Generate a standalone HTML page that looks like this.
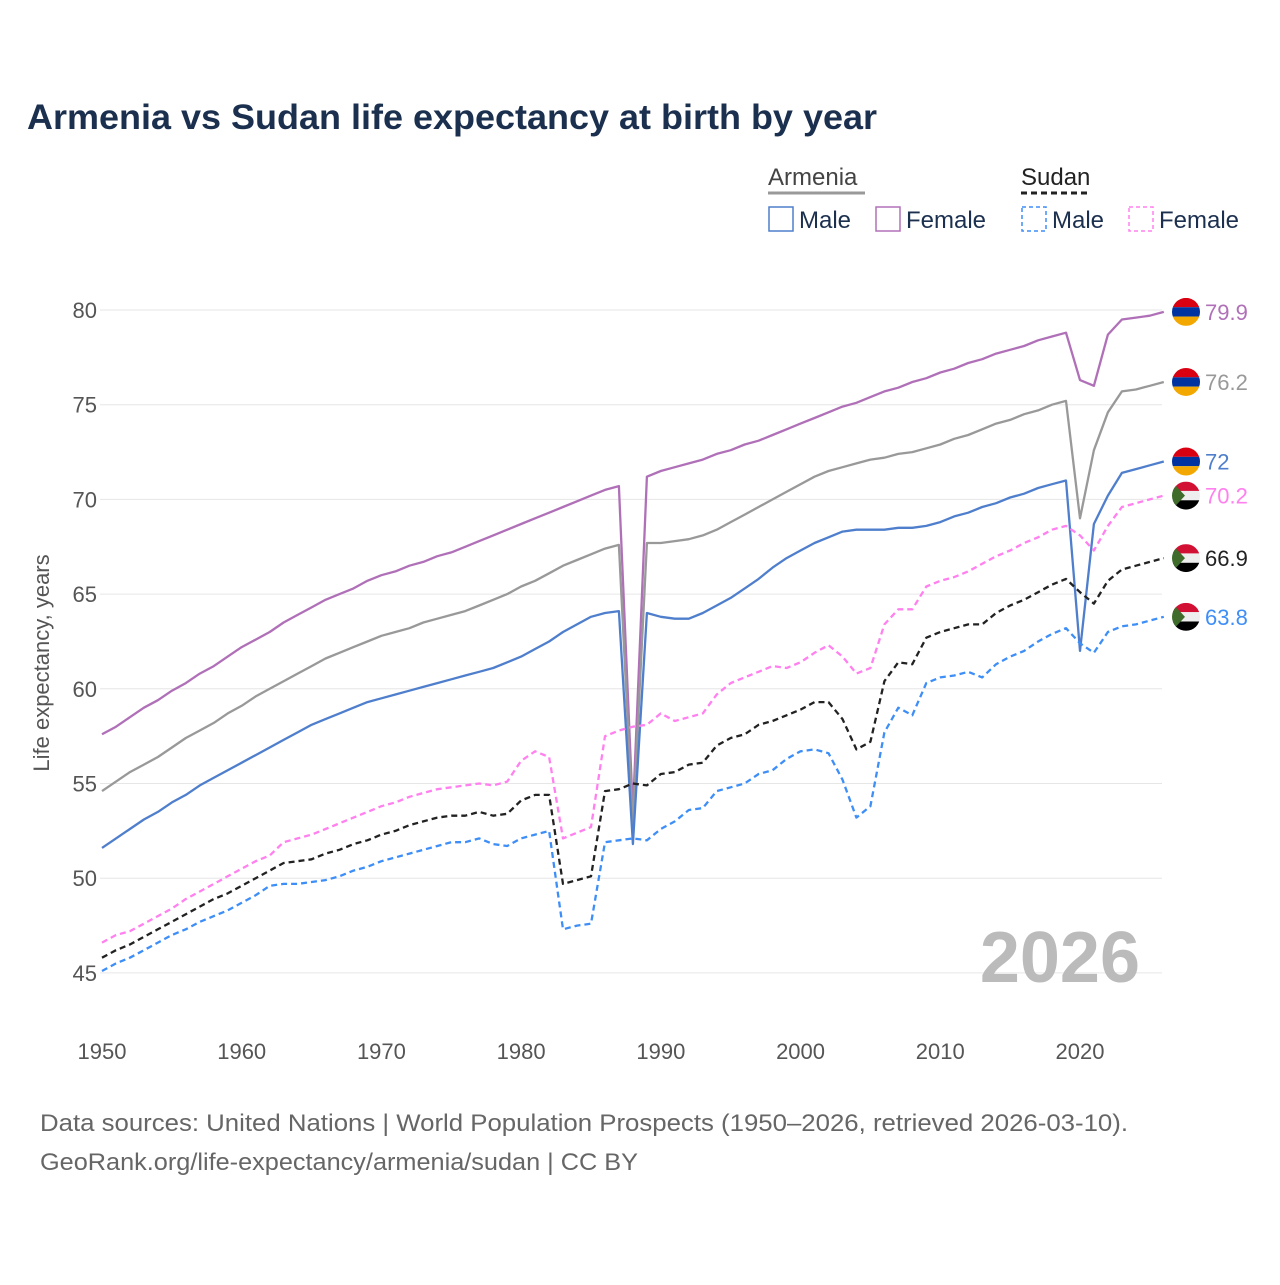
<!DOCTYPE html>
<html><head><meta charset="utf-8">
<style>
body{margin:0;background:#fff;font-family:"Liberation Sans",sans-serif;}
svg text{font-family:"Liberation Sans",sans-serif;}
</style></head>
<body>
<svg id="chart" width="1280" height="1280" viewBox="0 0 1280 1280">
<text x="27" y="129" font-size="35" font-weight="bold" fill="#1b2f4e" textLength="850" lengthAdjust="spacingAndGlyphs">Armenia vs Sudan life expectancy at birth by year</text>
<g>
<text x="768" y="185" font-size="24" fill="#444">Armenia</text>
<line x1="768" y1="193" x2="865" y2="193" stroke="#999" stroke-width="3"/>
<text x="1021" y="185" font-size="24" fill="#222">Sudan</text>
<line x1="1021" y1="193" x2="1091" y2="193" stroke="#222" stroke-width="3" stroke-dasharray="6,4"/>
<g><rect x="769" y="207" width="24" height="24" fill="none" stroke="#4f7fcc" stroke-width="1.5"/><text x="799" y="228" font-size="24" fill="#1b2f4e">Male</text></g>
<g><rect x="876" y="207" width="24" height="24" fill="none" stroke="#b070b8" stroke-width="1.5"/><text x="906" y="228" font-size="24" fill="#1b2f4e">Female</text></g>
<g><rect x="1022" y="207" width="24" height="24" fill="none" stroke="#3e8ef7" stroke-width="1.5" stroke-dasharray="4,3"/><text x="1052" y="228" font-size="24" fill="#1b2f4e">Male</text></g>
<g><rect x="1129" y="207" width="24" height="24" fill="none" stroke="#ff80ee" stroke-width="1.5" stroke-dasharray="4,3"/><text x="1159" y="228" font-size="24" fill="#1b2f4e">Female</text></g>
</g>
<g id="grid"></g>
<g id="xaxis"></g>
<g id="series"></g>
<g id="ends"></g>
<text x="26" y="640" font-size="22" fill="#555" transform="rotate(-90 49 640)" text-anchor="middle">Life expectancy, years</text>
<text x="1140" y="982" font-size="72" font-weight="bold" fill="#bbb" text-anchor="end">2026</text>
<text x="40" y="1131" font-size="24" fill="#666" textLength="1088" lengthAdjust="spacingAndGlyphs">Data sources: United Nations | World Population Prospects (1950–2026, retrieved 2026-03-10).</text>
<text x="40" y="1170" font-size="24" fill="#666" textLength="598" lengthAdjust="spacingAndGlyphs">GeoRank.org/life-expectancy/armenia/sudan | CC BY</text>
</svg>
<script>
const startYear = 1950;
const yTicks = [45,50,55,60,65,70,75,80];
const xTicks = [1950,1960,1970,1980,1990,2000,2010,2020];
const armeniaFemale = [57.6,58.0,58.5,59.0,59.4,59.9,60.3,60.8,61.2,61.7,62.2,62.6,63.0,63.5,63.9,64.3,64.7,65.0,65.3,65.7,66.0,66.2,66.5,66.7,67.0,67.2,67.5,67.8,68.1,68.4,68.7,69.0,69.3,69.6,69.9,70.2,70.5,70.7,53.5,71.2,71.5,71.7,71.9,72.1,72.4,72.6,72.9,73.1,73.4,73.7,74.0,74.3,74.6,74.9,75.1,75.4,75.7,75.9,76.2,76.4,76.7,76.9,77.2,77.4,77.7,77.9,78.1,78.4,78.6,78.8,76.3,76.0,78.7,79.5,79.6,79.7,79.9];
const armeniaTotal = [54.6,55.1,55.6,56.0,56.4,56.9,57.4,57.8,58.2,58.7,59.1,59.6,60.0,60.4,60.8,61.2,61.6,61.9,62.2,62.5,62.8,63.0,63.2,63.5,63.7,63.9,64.1,64.4,64.7,65.0,65.4,65.7,66.1,66.5,66.8,67.1,67.4,67.6,52.8,67.7,67.7,67.8,67.9,68.1,68.4,68.8,69.2,69.6,70.0,70.4,70.8,71.2,71.5,71.7,71.9,72.1,72.2,72.4,72.5,72.7,72.9,73.2,73.4,73.7,74.0,74.2,74.5,74.7,75.0,75.2,69.0,72.6,74.6,75.7,75.8,76.0,76.2];
const armeniaMale = [51.6,52.1,52.6,53.1,53.5,54.0,54.4,54.9,55.3,55.7,56.1,56.5,56.9,57.3,57.7,58.1,58.4,58.7,59.0,59.3,59.5,59.7,59.9,60.1,60.3,60.5,60.7,60.9,61.1,61.4,61.7,62.1,62.5,63.0,63.4,63.8,64.0,64.1,51.8,64.0,63.8,63.7,63.7,64.0,64.4,64.8,65.3,65.8,66.4,66.9,67.3,67.7,68.0,68.3,68.4,68.4,68.4,68.5,68.5,68.6,68.8,69.1,69.3,69.6,69.8,70.1,70.3,70.6,70.8,71.0,62.0,68.7,70.2,71.4,71.6,71.8,72.0];
const sudanFemale = [46.6,47.0,47.2,47.6,48.0,48.4,48.9,49.3,49.7,50.1,50.5,50.9,51.2,51.9,52.1,52.3,52.6,52.9,53.2,53.5,53.8,54.0,54.3,54.5,54.7,54.8,54.9,55.0,54.9,55.1,56.2,56.7,56.4,52.1,52.4,52.7,57.5,57.8,58.0,58.1,58.7,58.3,58.5,58.7,59.7,60.3,60.6,60.9,61.2,61.1,61.4,61.9,62.3,61.7,60.8,61.1,63.4,64.2,64.2,65.4,65.7,65.9,66.2,66.6,67.0,67.3,67.7,68.0,68.4,68.6,68.1,67.3,68.6,69.6,69.8,70.0,70.2];
const sudanTotal = [45.8,46.2,46.5,46.9,47.3,47.7,48.1,48.5,48.9,49.2,49.6,50.0,50.4,50.8,50.9,51.0,51.3,51.5,51.8,52.0,52.3,52.5,52.8,53.0,53.2,53.3,53.3,53.5,53.3,53.4,54.1,54.4,54.4,49.7,49.9,50.1,54.6,54.7,55.0,54.9,55.5,55.6,56.0,56.1,57.0,57.4,57.6,58.1,58.3,58.6,58.9,59.3,59.3,58.4,56.8,57.2,60.4,61.4,61.3,62.7,63.0,63.2,63.4,63.4,64.0,64.4,64.7,65.1,65.5,65.8,65.1,64.5,65.7,66.3,66.5,66.7,66.9];
const sudanMale = [45.1,45.5,45.8,46.2,46.6,47.0,47.3,47.7,48.0,48.3,48.7,49.1,49.6,49.7,49.7,49.8,49.9,50.1,50.4,50.6,50.9,51.1,51.3,51.5,51.7,51.9,51.9,52.1,51.8,51.7,52.1,52.3,52.5,47.3,47.5,47.6,51.9,52.0,52.1,52.0,52.6,53.0,53.6,53.7,54.6,54.8,55.0,55.5,55.7,56.3,56.7,56.8,56.6,55.2,53.2,53.8,57.7,59.0,58.6,60.3,60.6,60.7,60.9,60.6,61.3,61.7,62.0,62.5,62.9,63.2,62.4,61.9,63.0,63.3,63.4,63.6,63.8];
const endLabels = ["79.9","76.2","72","70.2","66.9","63.8"];

const NS="http://www.w3.org/2000/svg";
function xs(yr){return 102+(yr-1950)*13.971;}
function ys(v){return 310+(80-v)*18.94;}
function mk(tag,attrs,parent){const e=document.createElementNS(NS,tag);for(const k in attrs)e.setAttribute(k,attrs[k]);parent.appendChild(e);return e;}

const grid=document.getElementById('grid');
yTicks.forEach(t=>{
  const l=mk('line',{x1:100,x2:1162,y1:ys(t),y2:ys(t),stroke:'#e6e6e6','stroke-width':1},grid);
  
  
  const tx=mk('text',{x:97,y:ys(t)+8,'font-size':22,fill:'#555','text-anchor':'end'},grid);
  tx.textContent=t;
  
  
});
const xa=document.getElementById('xaxis');
xTicks.forEach(t=>{
  const tx=mk('text',{x:xs(t),y:1059,'font-size':22,fill:'#555','text-anchor':'middle'},xa);
  tx.textContent=t;
  
  
});

const defs=[
 {d:armeniaFemale,c:'#b070b8',dash:null,n:'armenia-female',lc:'#b070b8',flag:'am'},
 {d:armeniaTotal,c:'#999',dash:null,n:'armenia-total',lc:'#999',flag:'am'},
 {d:armeniaMale,c:'#4f7fcc',dash:null,n:'armenia-male',lc:'#4f7fcc',flag:'am'},
 {d:sudanFemale,c:'#ff80ee',dash:'6,4',n:'sudan-female',lc:'#ff80ee',flag:'sd'},
 {d:sudanTotal,c:'#222',dash:'6,4',n:'sudan-total',lc:'#222',flag:'sd'},
 {d:sudanMale,c:'#3e8ef7',dash:'6,4',n:'sudan-male',lc:'#3e8ef7',flag:'sd'}
];
const sg=document.getElementById('series'), eg=document.getElementById('ends');
defs.forEach((s,i)=>{
  const pts=s.d.map((v,k)=>xs(startYear+k).toFixed(1)+','+ys(v).toFixed(1)).join(' ');
  const a={points:pts,fill:'none',stroke:s.c,'stroke-width':2.3,'stroke-linejoin':'round'};
  if(s.dash)a['stroke-dasharray']=s.dash;
  const p=mk('polyline',a,sg);
  
  
  const last=s.d[s.d.length-1], ly=ys(last);
  const g=mk('g',{},eg);
  
  
  const cx=1186, r=14;
  const cid='clip'+i;
  const cp=mk('clipPath',{id:cid},g); mk('circle',{cx:cx,cy:ly,r:r},cp);
  const fg=mk('g',{'clip-path':'url(#'+cid+')'},g);
  if(s.flag==='am'){
    mk('rect',{x:cx-r,y:ly-r,width:2*r,height:2*r/3,fill:'#d90012'},fg);
    mk('rect',{x:cx-r,y:ly-r/3,width:2*r,height:2*r/3,fill:'#0033a0'},fg);
    mk('rect',{x:cx-r,y:ly+r/3,width:2*r,height:2*r/3,fill:'#f2a800'},fg);
  } else {
    mk('rect',{x:cx-r,y:ly-r,width:2*r,height:2*r/3,fill:'#d21034'},fg);
    mk('rect',{x:cx-r,y:ly-r/3,width:2*r,height:2*r/3,fill:'#eee'},fg);
    mk('rect',{x:cx-r,y:ly+r/3,width:2*r,height:2*r/3,fill:'#000'},fg);
    mk('polygon',{points:(cx-r)+','+(ly-r)+' '+(cx-1)+','+ly+' '+(cx-r)+','+(ly+r),fill:'#3f6b2b'},fg);
  }
  const t=mk('text',{x:1205,y:ly+8,'font-size':22,fill:s.lc},eg);
  t.textContent=endLabels[i];
  
  
});
</script>
</body></html>
